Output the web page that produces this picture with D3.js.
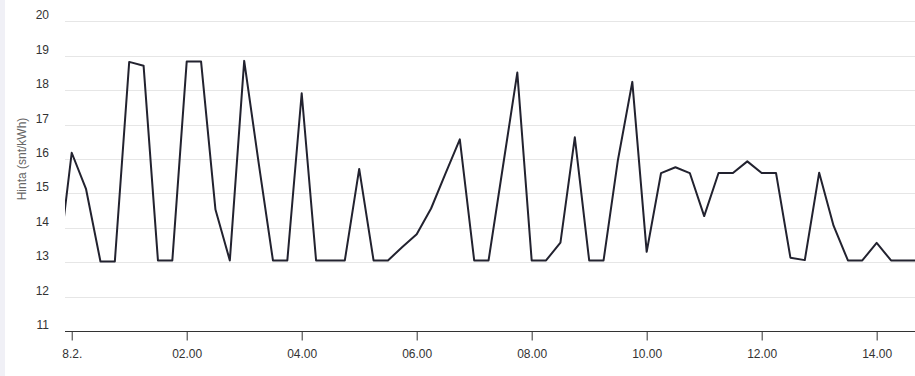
<!DOCTYPE html>
<html>
<head>
<meta charset="utf-8">
<title>Hinta</title>
<style>
body { margin: 0; background: #fff; }
svg { display: block; font-family: "Liberation Sans", Arial, sans-serif; }
</style>
<script src="https://cdn.jsdelivr.net/npm/d3@7"></script>
</head>
<body>
<div id="chart"></div>
<script>
// quarter-hour prices, 7.2. 23:45 -> 8.2. 14:45
var times = ["2024-02-07T23:45",
	"2024-02-08T00:00", "2024-02-08T00:15", "2024-02-08T00:30", "2024-02-08T00:45",
	"2024-02-08T01:00", "2024-02-08T01:15", "2024-02-08T01:30", "2024-02-08T01:45",
	"2024-02-08T02:00", "2024-02-08T02:15", "2024-02-08T02:30", "2024-02-08T02:45",
	"2024-02-08T03:00", "2024-02-08T03:15", "2024-02-08T03:30", "2024-02-08T03:45",
	"2024-02-08T04:00", "2024-02-08T04:15", "2024-02-08T04:30", "2024-02-08T04:45",
	"2024-02-08T05:00", "2024-02-08T05:15", "2024-02-08T05:30", "2024-02-08T05:45",
	"2024-02-08T06:00", "2024-02-08T06:15", "2024-02-08T06:30", "2024-02-08T06:45",
	"2024-02-08T07:00", "2024-02-08T07:15", "2024-02-08T07:30", "2024-02-08T07:45",
	"2024-02-08T08:00", "2024-02-08T08:15", "2024-02-08T08:30", "2024-02-08T08:45",
	"2024-02-08T09:00", "2024-02-08T09:15", "2024-02-08T09:30", "2024-02-08T09:45",
	"2024-02-08T10:00", "2024-02-08T10:15", "2024-02-08T10:30", "2024-02-08T10:45",
	"2024-02-08T11:00", "2024-02-08T11:15", "2024-02-08T11:30", "2024-02-08T11:45",
	"2024-02-08T12:00", "2024-02-08T12:15", "2024-02-08T12:30", "2024-02-08T12:45",
	"2024-02-08T13:00", "2024-02-08T13:15", "2024-02-08T13:30", "2024-02-08T13:45",
	"2024-02-08T14:00", "2024-02-08T14:15", "2024-02-08T14:30", "2024-02-08T14:45"];

var prices = [12.7,
	16.18, 15.12, 13.02, 13.02,
	18.82, 18.71, 13.05, 13.05,
	18.83, 18.83, 14.53, 13.05,
	18.85, 15.9, 13.05, 13.05,
	17.91, 13.05, 13.05, 13.05,
	15.71, 13.05, 13.05, 13.44,
	13.81, 14.56, 15.57, 16.57,
	13.05, 13.05, 15.78, 18.51,
	13.05, 13.05, 13.57, 16.63,
	13.05, 13.05, 15.97, 18.24,
	13.3, 15.59, 15.76, 15.59,
	14.34, 15.59, 15.59, 15.93,
	15.59, 15.59, 13.13, 13.06,
	15.6, 14.06, 13.05, 13.05,
	13.56, 13.05, 13.05, 13.05];

var xTicks = ["2024-02-08T00:00", "2024-02-08T02:00", "2024-02-08T04:00", "2024-02-08T06:00",
	"2024-02-08T08:00", "2024-02-08T10:00", "2024-02-08T12:00", "2024-02-08T14:00"];
var xTickLabels = ["8.2.", "02.00", "04.00", "06.00", "08.00", "10.00", "12.00", "14.00"];
var yTicks = [11, 12, 13, 14, 15, 16, 17, 18, 19, 20];
var yTitle = "Hinta (snt/kWh)";

function draw() {
	var W = 915, H = 376;
	var pLeft = 65, pRight = 915, pTop = 21.3, pBottom = 331;
	var parse = d3.timeParse("%Y-%m-%dT%H:%M");

	var data = times.map(function (t, i) { return {t: parse(t), v: prices[i]}; });

	// axis window: a bit before midnight to just before 14:45
	var x = d3.scaleTime()
		.domain([d3.timeMinute.offset(parse("2024-02-08T00:00"), -7), d3.timeMinute.offset(parse("2024-02-08T14:00"), 40.4)])
		.range([pLeft, pRight]);
	var y = d3.scaleLinear().domain([11, 20]).range([pBottom, pTop]);

	var svg = d3.select("#chart").append("svg").attr("width", W).attr("height", H);

	svg.append("rect").attr("x", 0).attr("y", 0).attr("width", 5).attr("height", H).attr("fill", "#f0f0f6");

	// grid
	svg.append("g").selectAll("line")
		.data(yTicks.filter(function (d) { return d > 11; }))
		.enter().append("line")
			.attr("x1", pLeft).attr("x2", pRight)
			.attr("y1", function (d) { return Math.round(y(d)) + 0.5; })
			.attr("y2", function (d) { return Math.round(y(d)) + 0.5; })
			.attr("stroke", "#e6e6e6").attr("stroke-width", 1);

	// y labels
	svg.append("g").selectAll("text")
		.data(yTicks)
		.enter().append("text")
			.attr("x", 49)
			.attr("y", function (d) { return y(d) - 2; })
			.attr("text-anchor", "end")
			.attr("font-size", "12px")
			.attr("fill", "#333")
			.text(function (d) { return d; });

	svg.append("text")
		.attr("transform", "translate(26,159) rotate(-90)")
		.attr("text-anchor", "middle")
		.attr("font-size", "12px")
		.attr("fill", "#666")
		.text(yTitle);

	// x axis
	var tickDates = xTicks.map(parse);
	var xAxis = d3.axisBottom(x)
		.tickValues(tickDates)
		.tickSize(9)
		.tickFormat(function (d, i) { return xTickLabels[i]; });

	var gx = svg.append("g").attr("transform", "translate(0," + (Math.round(pBottom) + 0.5) + ")").call(xAxis);
	gx.attr("font-size", null).attr("font-family", null);
	gx.select(".domain").attr("d", "M" + pLeft + ",0H" + pRight).attr("stroke", "#333");
	gx.selectAll(".tick line").attr("stroke", "#333");
	gx.selectAll(".tick text").attr("font-size", "12px").attr("fill", "#333").attr("dy", "0").attr("y", 26);

	// line
	svg.append("clipPath").attr("id", "clip")
		.append("rect").attr("x", pLeft).attr("y", 0).attr("width", pRight - pLeft).attr("height", H);

	var line = d3.line()
		.x(function (d) { return x(d.t); })
		.y(function (d) { return y(d.v); });

	svg.append("path")
		.datum(data)
		.attr("clip-path", "url(#clip)")
		.attr("d", line)
		.attr("fill", "none")
		.attr("stroke", "#22222f")
		.attr("stroke-width", 2)
		.attr("stroke-linejoin", "round");
}

draw();
</script>
</body>
</html>
